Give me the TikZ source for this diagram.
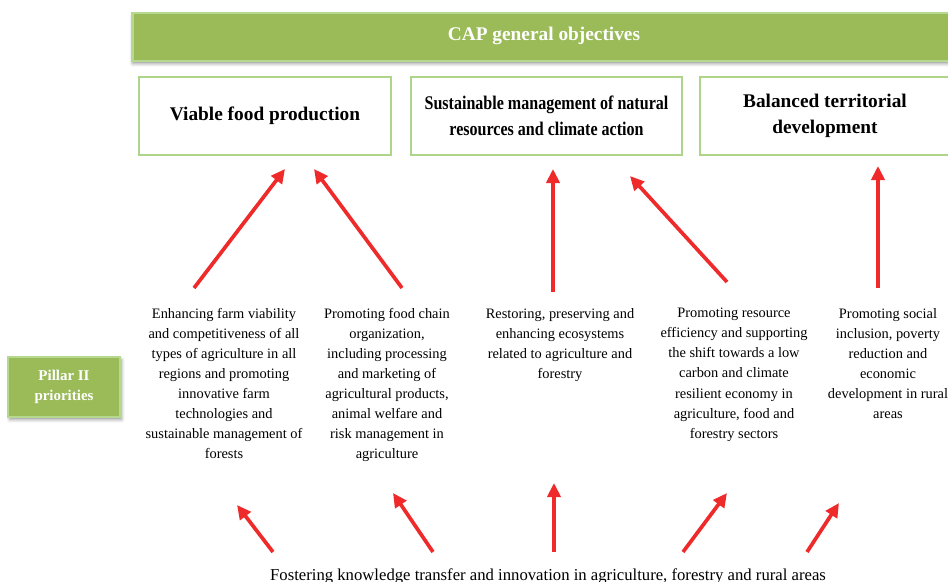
\documentclass[tikz,border=0pt]{standalone}
\usepackage{fontspec}
\setmainfont{Liberation Serif}
\newfontfamily\narrowserif[FakeStretch=0.83]{Liberation Serif}
\usetikzlibrary{arrows.meta, positioning, shadows.blur}

\definecolor{capgreen}{HTML}{9BBB59}
\definecolor{capedge}{HTML}{B5D98F}
\definecolor{boxedge}{HTML}{AED58A}
\definecolor{arrowred}{HTML}{EE2A2A}

\begin{document}
\begin{tikzpicture}[
    x=0.02cm, y=-0.02cm,
    every node/.style={inner sep=0pt},
    banner/.style={draw=capedge, line width=1.5pt, fill=capgreen, text=white,
        font=\fontsize{11}{13}\selectfont\bfseries, blur shadow={shadow xshift=0pt, shadow yshift=-1.5pt}},
    objbox/.style={draw=boxedge, line width=0.9pt, fill=white, align=center,
        minimum height=1.56cm, font=\fontsize{11}{14.8}\selectfont\bfseries},
    prio/.style={align=center, anchor=north, font=\fontsize{8.2}{11.4}\selectfont},
    pillar/.style={draw=capedge, line width=1.2pt, fill=capgreen, text=white, align=center,
        minimum width=2.24cm, minimum height=1.2cm,
        font=\fontsize{8.5}{11}\selectfont\bfseries, blur shadow={shadow xshift=1pt, shadow yshift=-1.5pt}},
    arrow/.style={-{Triangle[length=8pt, width=7.5pt]}, line width=2.1pt, arrowred}
]
\clip (0,0) rectangle (948,582);

% top banner
\node[banner, minimum width=16.5cm, minimum height=0.96cm] (cap) at (545,37) {};
\node[text=white, font=\fontsize{11}{13}\selectfont\bfseries] (captitle) at (544,35.5) {CAP general objectives};

% general objectives
\node[objbox, minimum width=5.04cm] (viable) at (265,116) {\raisebox{-2pt}{Viable food production}};
\node[objbox, minimum width=5.42cm, font=\fontsize{11}{14.8}\narrowserif\bfseries] (sustain) at (546.5,116) {Sustainable management of natural\\resources and climate action};
\node[objbox, minimum width=5.0cm] (balanced) at (825,116) {Balanced territorial\\development};

% pillar II priorities
\node[pillar] (pillar) at (64,387) {Pillar II\\priorities};

\node[prio] (p1) at (224,308) {Enhancing farm viability\\and competitiveness of all\\types of agriculture in all\\regions and promoting\\innovative farm\\technologies and\\sustainable management of\\forests};
\node[prio] (p2) at (387,308) {Promoting food chain\\organization,\\including processing\\and marketing of\\agricultural products,\\animal welfare and\\risk management in\\agriculture};
\node[prio] (p3) at (560,308) {Restoring, preserving and\\enhancing ecosystems\\related to agriculture and\\forestry};
\node[prio] (p4) at (734,308) {Promoting resource\\efficiency and supporting\\the shift towards a low\\carbon and climate\\resilient economy in\\agriculture, food and\\forestry sectors};
\node[prio] (p5) at (888,308) {Promoting social\\inclusion, poverty\\reduction and\\economic\\development in rural\\areas};

% cross-cutting priority
\node[anchor=base, font=\fontsize{9.5}{11}\selectfont] (knowledge) at (548,580.5) {Fostering knowledge transfer and innovation in agriculture, forestry and rural areas};

% arrow ends
\coordinate (up1s) at (194,288); \coordinate (up1e) at (285,169);
\coordinate (up2s) at (402,288); \coordinate (up2e) at (314,169);
\coordinate (up3s) at (553,292); \coordinate (up3e) at (553,169);
\coordinate (up4s) at (727,282); \coordinate (up4e) at (630,176);
\coordinate (up5s) at (878,288); \coordinate (up5e) at (878,166);

\coordinate (kn1s) at (273,552); \coordinate (kn1e) at (237,505);
\coordinate (kn2s) at (433,552); \coordinate (kn2e) at (393,493);
\coordinate (kn3s) at (554,552); \coordinate (kn3e) at (554,483);
\coordinate (kn4s) at (683,552); \coordinate (kn4e) at (727,493);
\coordinate (kn5s) at (807,552); \coordinate (kn5e) at (839,503);

% arrows to objectives
\draw[arrow] (up1s) -- (up1e);
\draw[arrow] (up2s) -- (up2e);
\draw[arrow] (up3s) -- (up3e);
\draw[arrow] (up4s) -- (up4e);
\draw[arrow] (up5s) -- (up5e);

% arrows from knowledge transfer
\draw[arrow] (kn1s) -- (kn1e);
\draw[arrow] (kn2s) -- (kn2e);
\draw[arrow] (kn3s) -- (kn3e);
\draw[arrow] (kn4s) -- (kn4e);
\draw[arrow] (kn5s) -- (kn5e);

\end{tikzpicture}
\end{document}
